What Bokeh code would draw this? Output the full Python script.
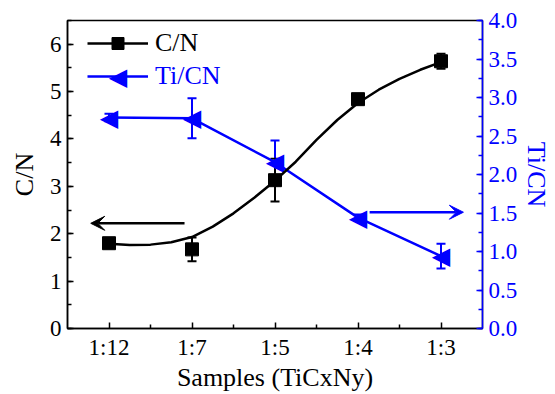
from bokeh.plotting import figure
from bokeh.models import (Range1d, LinearAxis, FixedTicker, SingleIntervalTicker,
                          Whisker, ColumnDataSource, TeeHead, Arrow, VeeHead, Legend,
                          NumeralTickFormatter, Label)
from bokeh.core.properties import value
from bokeh.embed import file_html
from bokeh.resources import INLINE

# ---- data ----
samples = ["1:12", "1:7", "1:5", "1:4", "1:3"]
x_pos = [1, 2, 3, 4, 5]
cn = [1.80, 1.67, 3.13, 4.84, 5.64]
cn_err = [0.05, 0.25, 0.45, 0.08, 0.16]
ticn = [2.74, 2.73, 2.16, 1.44, 0.94]
ticn_err = [0.05, 0.26, 0.28, 0.04, 0.16]
# fitted C/N curve
fit_x = [1.0, 1.25, 1.5, 1.75, 2.0, 2.25, 2.5, 2.75, 3.0, 3.25, 3.5, 3.75, 4.0, 4.25, 4.5, 4.75, 5.0]
fit_y = [1.79, 1.76, 1.77, 1.82, 1.93, 2.15, 2.43, 2.76, 3.12, 3.52, 3.98, 4.40, 4.76, 5.04, 5.27, 5.46, 5.62]
# axis-indicator arrows (data coords)
arrow_left = dict(x_start=1.91, x_end=0.78, y=2.22)
arrow_right = dict(x_start=4.14, x_end=5.27, y=1.51)

FONT = "Liberation Serif"
BLUE = "#0000ff"
TICK_FS = "23px"
LABEL_FS = "26px"
TRI = "\u25C0"   # left-pointing triangle marker
TRI_FS = "24px"

p = figure(width=555, height=394, output_backend="svg", toolbar_location=None,
           x_range=Range1d(0.5, 5.5), y_range=Range1d(0, 6.5),
           min_border_left=67, min_border_right=73, min_border_top=20, min_border_bottom=66)
p.extra_y_ranges = {"right": Range1d(0, 4.0)}
p.xgrid.visible = False
p.ygrid.visible = False
p.outline_line_color = "black"
p.outline_line_width = 1.5

xa = p.xaxis[0]
xa.ticker = FixedTicker(ticks=x_pos, minor_ticks=[1.5, 2.5, 3.5, 4.5])
xa.major_label_overrides = {i: s for i, s in zip(x_pos, samples)}
xa.axis_label = "Samples (TiCxNy)"
ya = p.yaxis[0]
ya.ticker = SingleIntervalTicker(interval=1, num_minor_ticks=2)
ya.axis_label = "C/N"

for ax in (xa, ya):
    ax.axis_line_width = 1.5
    ax.axis_line_color = "black"
    ax.major_tick_in = 6
    ax.major_tick_out = 0
    ax.minor_tick_in = 4
    ax.minor_tick_out = 0
    ax.major_tick_line_width = 1.5
    ax.minor_tick_line_width = 1.5
    ax.major_tick_line_color = "black"
    ax.minor_tick_line_color = "black"
    ax.major_label_text_font = FONT
    ax.major_label_text_font_size = TICK_FS
    ax.major_label_text_color = "black"
    ax.axis_label_text_font = FONT
    ax.axis_label_text_font_style = "normal"
    ax.axis_label_text_font_size = LABEL_FS
    ax.axis_label_text_color = "black"
    ax.major_label_standoff = 6
xa.axis_label_standoff = 0
ya.axis_label_standoff = 8

ra = LinearAxis(y_range_name="right", axis_label="Ti/CN",
                ticker=SingleIntervalTicker(interval=0.5, num_minor_ticks=2),
                formatter=NumeralTickFormatter(format="0.0"))
ra.axis_line_color = BLUE
ra.axis_line_width = 1.5
ra.major_tick_line_color = BLUE
ra.minor_tick_line_color = BLUE
ra.major_tick_line_width = 1.5
ra.minor_tick_line_width = 1.5
ra.major_tick_in = 6
ra.major_tick_out = 0
ra.minor_tick_in = 4
ra.minor_tick_out = 0
ra.major_label_text_color = BLUE
ra.major_label_text_font = FONT
ra.major_label_text_font_size = TICK_FS
ra.major_label_standoff = 6
ra.axis_label_text_color = BLUE
ra.axis_label_text_font = FONT
ra.axis_label_text_font_style = "normal"
ra.axis_label_text_font_size = LABEL_FS
ra.axis_label_standoff = 2
p.add_layout(ra, "right")

src_cn = ColumnDataSource(dict(x=x_pos, y=cn,
                               lo=[v - e for v, e in zip(cn, cn_err)],
                               hi=[v + e for v, e in zip(cn, cn_err)]))
src_ti = ColumnDataSource(dict(x=x_pos, y=ticn,
                               lo=[v - e for v, e in zip(ticn, ticn_err)],
                               hi=[v + e for v, e in zip(ticn, ticn_err)]))

# blue series
r_tl = p.line("x", "y", source=src_ti, y_range_name="right", line_color=BLUE, line_width=2.5)
wt = Whisker(source=src_ti, base="x", lower="lo", upper="hi", y_range_name="right",
             line_color=BLUE, line_width=2,
             lower_head=TeeHead(size=9, line_color=BLUE, line_width=2),
             upper_head=TeeHead(size=9, line_color=BLUE, line_width=2))
p.add_layout(wt)
r_tm = p.text("x", "y", text=value(TRI), source=src_ti, y_range_name="right",
              text_font=value("DejaVu Sans"), text_font_size=TRI_FS, text_color=BLUE,
              text_align="center", text_baseline="middle")

# black series
r_fit = p.line(fit_x, fit_y, line_color="black", line_width=2.5, line_join="round")
wc = Whisker(source=src_cn, base="x", lower="lo", upper="hi",
             line_color="black", line_width=2,
             lower_head=TeeHead(size=9, line_color="black", line_width=2),
             upper_head=TeeHead(size=9, line_color="black", line_width=2))
p.add_layout(wc)
r_cm = p.scatter("x", "y", source=src_cn, marker="square", size=13,
                 fill_color="black", line_color="black")

p.add_layout(Arrow(x_start=arrow_left["x_start"], y_start=arrow_left["y"],
                   x_end=arrow_left["x_end"], y_end=arrow_left["y"],
                   line_color="black", line_width=2.5,
                   end=VeeHead(size=14, fill_color="black", line_color="black")))
p.add_layout(Arrow(x_start=arrow_right["x_start"], y_start=arrow_right["y"],
                   x_end=arrow_right["x_end"], y_end=arrow_right["y"],
                   y_range_name="right", line_color=BLUE, line_width=2.5,
                   end=VeeHead(size=14, fill_color=BLUE, line_color=BLUE)))

common = dict(background_fill_alpha=0, border_line_alpha=0,
              label_text_font=FONT, label_text_font_size=LABEL_FS,
              glyph_width=61, glyph_height=30, label_height=30, label_standoff=7,
              padding=0, margin=0)
leg1 = Legend(items=[("C/N", [r_fit, r_cm])], location=(20, 270),
              label_text_color="black", **common)
leg2 = Legend(items=[("Ti/CN", [r_tl])], location=(20, 237),
              label_text_color=BLUE, **common)
p.add_layout(leg1)
p.add_layout(leg2)
# triangle symbol of the Ti/CN legend entry (centre of the legend glyph box)
p.add_layout(Label(x=20 + 61 / 2, y=237 + 15, x_units="screen", y_units="screen",
                   text=TRI, text_font="DejaVu Sans", text_font_size=TRI_FS,
                   text_color=BLUE, text_align="center", text_baseline="middle"))

html = file_html(p, INLINE)
html = html.replace("</head>", "<style>body{margin:0;}</style></head>")
open("out.html", "w").write(html)
